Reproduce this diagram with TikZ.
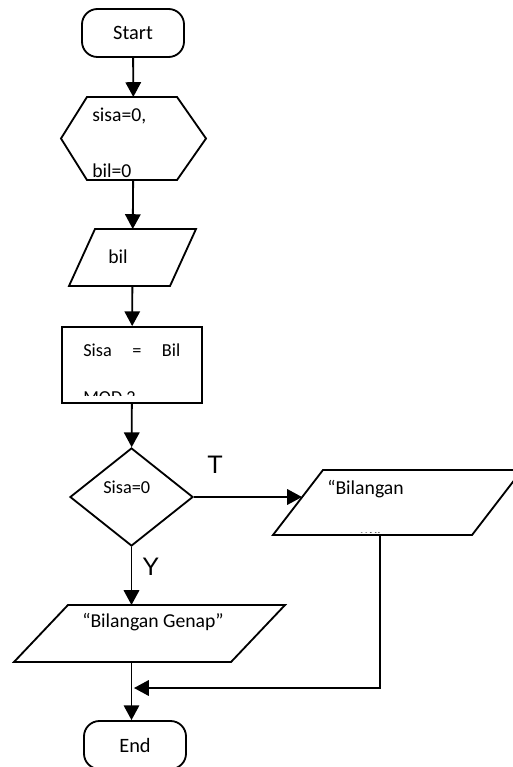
\documentclass[tikz,border=0pt]{standalone}
\usepackage{fontspec}
\setmainfont{Carlito}
\newfontfamily\markfont{Liberation Sans}
\usetikzlibrary{positioning,arrows.meta,shapes.geometric}

\tikzset{
  line/.style={line width=1.3pt},
  link/.style={line width=1.3pt, -{Triangle[width=11pt,length=10.5pt]}},
  term/.style={draw, line width=1.3pt, rectangle, rounded corners=11pt,
    minimum width=2.55cm, minimum height=1.2cm, inner sep=0pt,
    font=\fontsize{14.5}{16}\selectfont},
  frame/.style={inner sep=0pt, outer sep=0pt},
  txt/.style={anchor=base west, inner sep=0pt, font=\fontsize{14}{16}\selectfont},
  small/.style={anchor=base west, inner sep=0pt, font=\fontsize{13}{15}\selectfont},
  branch/.style={anchor=base west, inner sep=0pt, font=\markfont\fontsize{18}{20}\selectfont},
}

% parallelogram drawn on the frame of a node: #1 node, #2 slant
\newcommand{\ioshape}[2]{%
  \draw [line] (#1.south west) -- ([xshift=#2]#1.north west)
    -- (#1.north east) -- ([xshift=-#2]#1.south east) -- cycle;}

\begin{document}
\begin{tikzpicture}[x=0.025cm, y=-0.025cm]
  \useasboundingbox (0,0) rectangle (512,767);

  % start / end
  \node [term] (start) at (133,33) {Start};
  \node [term] (end) at (135,745) {End};

  % initial values (hexagon)
  \node [frame, minimum width=3.625cm, minimum height=2.075cm] (init) at (133.5,138.5) {};
  \draw [line] (init.west) -- ([xshift=0.65cm]init.north west)
    -- ([xshift=-0.725cm]init.north east) -- (init.east)
    -- ([xshift=-0.725cm]init.south east) -- ([xshift=0.65cm]init.south west) -- cycle;
  \node [txt] (initA) at (92,122) {sisa=0,};
  \node [txt] (initB) at (92,178) {bil=0};

  % input
  \node [frame, minimum width=3.175cm, minimum height=1.425cm] (bil) at (132.5,257.5) {};
  \ioshape{bil}{0.65cm}
  \node [txt] (bilT) at (108,263) {bil};

  % process
  \node [draw, line width=1.3pt, minimum width=3.5cm, minimum height=1.9cm,
    inner sep=0pt] (calc) at (132,365) {};
  \begin{scope}
    \clip (64,329) rectangle (200,395);
    \node [anchor=north west, inner sep=0pt, text width=2.425cm, align=justify,
      font=\fontsize{13}{33}\selectfont] (calcT) at (83,344)
      {Sisa = Bil MOD 2};
  \end{scope}

  % decision
  \node [draw, diamond, line width=1.3pt, inner sep=0pt,
    minimum width=3.075cm, minimum height=2.45cm] (dec) at (131.5,497) {};
  \node [small] (decT) at (103,493) {Sisa=0};
  \node [branch] (labT) at (207,473) {T};
  \node [branch] (labY) at (142,575) {Y};

  % outputs
  \node [frame, minimum width=6.775cm, minimum height=1.425cm] (genap) at (149.5,633.5) {};
  \ioshape{genap}{1.35cm}
  \node [txt] (genapT) at (82,627) {“Bilangan Genap”};

  \node [frame, minimum width=6.225cm, minimum height=1.625cm] (ganjil) at (397.5,502.5) {};
  \ioshape{ganjil}{1.25cm}
  \begin{scope}
    \clip (300,472) rectangle (500,532);
    \node [anchor=base west, inner sep=0pt, text width=3cm, align=left,
      font=\fontsize{14}{37}\selectfont] (ganjilT) at (327,494)
      {“Bilangan\\Ganjil”};
  \end{scope}

  % connectors
  \coordinate (ganjilIn) at ([xshift=0.725cm]ganjil.west);
  \coordinate (ganjilOut) at ([xshift=-0.4375cm]ganjil.south);
  \coordinate (merge) at (134,688);
  \draw [link] (start) -- (init);
  \draw [link] (init) -- (bil);
  \draw [link] (bil) -- (calc);
  \draw [link] (calc) -- (dec);
  \draw [link] (dec.east) -- (dec.east -| ganjilIn);
  \draw [link] (dec.south) -- (dec.south |- genap.north);
  \draw [link] (dec.south |- genap.south) -- (dec.south |- end.north);
  \draw [link] (ganjilOut) |- (merge);
\end{tikzpicture}
\end{document}
